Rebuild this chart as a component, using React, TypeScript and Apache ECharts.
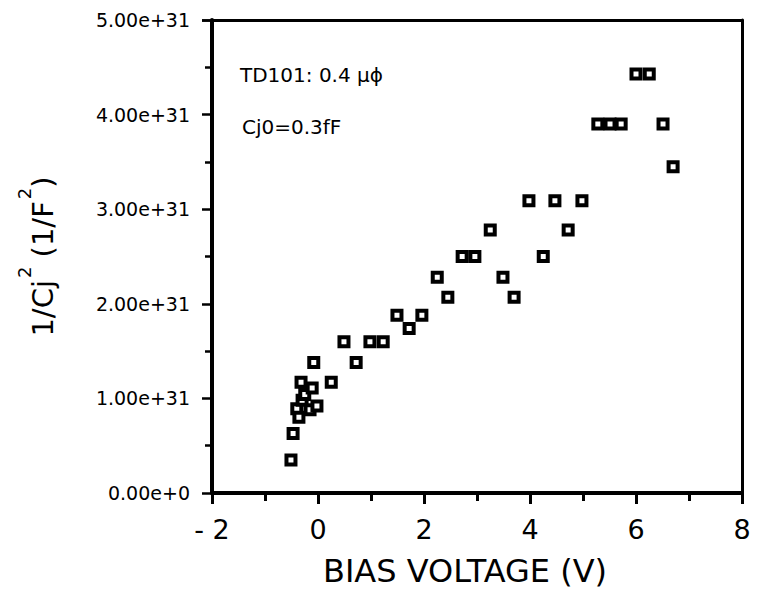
import React, { useEffect, useRef } from "react";
import * as echarts from "echarts";

// Bias voltage (V) of each measured point
const biasVoltage = [
  -0.51, -0.47, -0.4, -0.36, -0.32, -0.3, -0.25, -0.15, -0.11, -0.08, -0.02,
  0.25, 0.49, 0.72, 0.98, 1.23, 1.49, 1.72, 1.96, 2.25, 2.45, 2.72, 2.96,
  3.25, 3.49, 3.7, 3.98, 4.25, 4.47, 4.72, 4.98, 5.28, 5.51, 5.72, 6.0, 6.25,
  6.51, 6.7,
];
// 1/Cj^2 (1/F^2)
const invCj2 = [
  0.35e31, 0.63e31, 0.89e31, 0.8e31, 1.17e31, 0.98e31, 1.04e31, 0.88e31,
  1.11e31, 1.38e31, 0.92e31, 1.17e31, 1.6e31, 1.38e31, 1.6e31, 1.6e31,
  1.88e31, 1.74e31, 1.88e31, 2.28e31, 2.07e31, 2.5e31, 2.5e31, 2.78e31,
  2.28e31, 2.07e31, 3.09e31, 2.5e31, 3.09e31, 2.78e31, 3.09e31, 3.9e31,
  3.9e31, 3.9e31, 4.43e31, 4.43e31, 3.9e31, 3.45e31,
];
const xTicks = { min: -2, max: 8, interval: 2 };
const yTicks = { min: 0, max: 5e31, interval: 1e31 };
const annotationLines = ["TD101: 0.4 \u03bc\u03d5", "Cj0=0.3fF"];
const xTitle = "BIAS VOLTAGE (V)";

const FONT = "DejaVu Sans, sans-serif";

export default function App() {
  const ref = useRef<HTMLDivElement>(null);
  useEffect(() => {
    if (!ref.current) return;
    const chart = echarts.init(ref.current, undefined, { renderer: "svg" });
    const points = biasVoltage.map((x, i) => [x, invCj2[i]]);
    const frameAxis = {
      type: "value",
      axisLine: { show: true, onZero: false, lineStyle: { color: "#000", width: 3 } },
      axisTick: { show: false },
      minorTick: { show: false },
      axisLabel: { show: false },
      splitLine: { show: false },
    };
    const noteStyle = {
      fontSize: 20,
      fontWeight: "normal",
      fontFamily: FONT,
      color: "#000",
    };
    chart.setOption({
      animation: false,
      backgroundColor: "#fff",
      title: [
        { text: annotationLines[0], left: 240, top: 65, padding: 0, textStyle: noteStyle },
        { text: annotationLines[1], left: 242, top: 117, padding: 0, textStyle: noteStyle },
      ],
      grid: {
        left: 212,
        right: 19,
        top: 20,
        bottom: 97,
        containLabel: false,
        outerBoundsMode: "none",
      },
      xAxis: [
        {
          type: "value",
          position: "bottom",
          min: xTicks.min,
          max: xTicks.max,
          interval: xTicks.interval,
          name: xTitle,
          nameLocation: "middle",
          nameGap: 62,
          nameMoveOverlap: false,
          nameTextStyle: {
            fontSize: 32,
            fontFamily: FONT,
            color: "#000",
            padding: [0, 24, 0, 0],
          },
          axisLine: { show: true, onZero: false, lineStyle: { color: "#000", width: 4 } },
          axisTick: { show: true, inside: false, length: 11, lineStyle: { color: "#000", width: 3 } },
          minorTick: { show: true, splitNumber: 2, length: 8, lineStyle: { color: "#000", width: 3 } },
          splitLine: { show: false },
          axisLabel: {
            margin: 23,
            fontSize: 27,
            fontFamily: FONT,
            color: "#000",
            formatter: (v: number) => (v < 0 ? "- " + Math.abs(v) : String(v)),
          },
        },
        { ...frameAxis, position: "top", min: xTicks.min, max: xTicks.max },
      ],
      yAxis: [
        {
          type: "value",
          position: "left",
          min: yTicks.min,
          max: yTicks.max,
          interval: yTicks.interval,
          name: "{m|1/Cj}{s|2}{m| (1/F}{s|2}{m|)}",
          nameLocation: "middle",
          nameRotate: 90,
          nameGap: 141,
          nameMoveOverlap: false,
          nameTextStyle: {
            color: "#000",
            rich: {
              m: { fontSize: 29, fontFamily: FONT, color: "#000" },
              s: { fontSize: 18, fontFamily: FONT, color: "#000", padding: [0, 0, 38, 2] },
            },
          },
          axisLine: { show: true, onZero: false, lineStyle: { color: "#000", width: 4 } },
          axisTick: { show: true, inside: false, length: 10, lineStyle: { color: "#000", width: 2.5 } },
          minorTick: { show: true, splitNumber: 2, length: 7, lineStyle: { color: "#000", width: 2.5 } },
          splitLine: { show: false },
          axisLabel: {
            margin: 22,
            fontSize: 19,
            fontFamily: FONT,
            color: "#000",
            formatter: (v: number) =>
              v === 0 ? "0.00e+0" : (v / 1e31).toFixed(2) + "e+31",
          },
        },
        { ...frameAxis, position: "right", min: yTicks.min, max: yTicks.max },
      ],
      series: [
        {
          type: "scatter",
          xAxisIndex: 0,
          yAxisIndex: 0,
          data: points,
          symbol: "rect",
          symbolSize: 9,
          itemStyle: { color: "#fff", borderColor: "#000", borderWidth: 4, opacity: 1 },
        },
      ],
    });
    return () => chart.dispose();
  }, []);
  return (
    <div
      ref={ref}
      style={{ position: "fixed", left: 0, top: 0, width: 761, height: 590 }}
    />
  );
}
